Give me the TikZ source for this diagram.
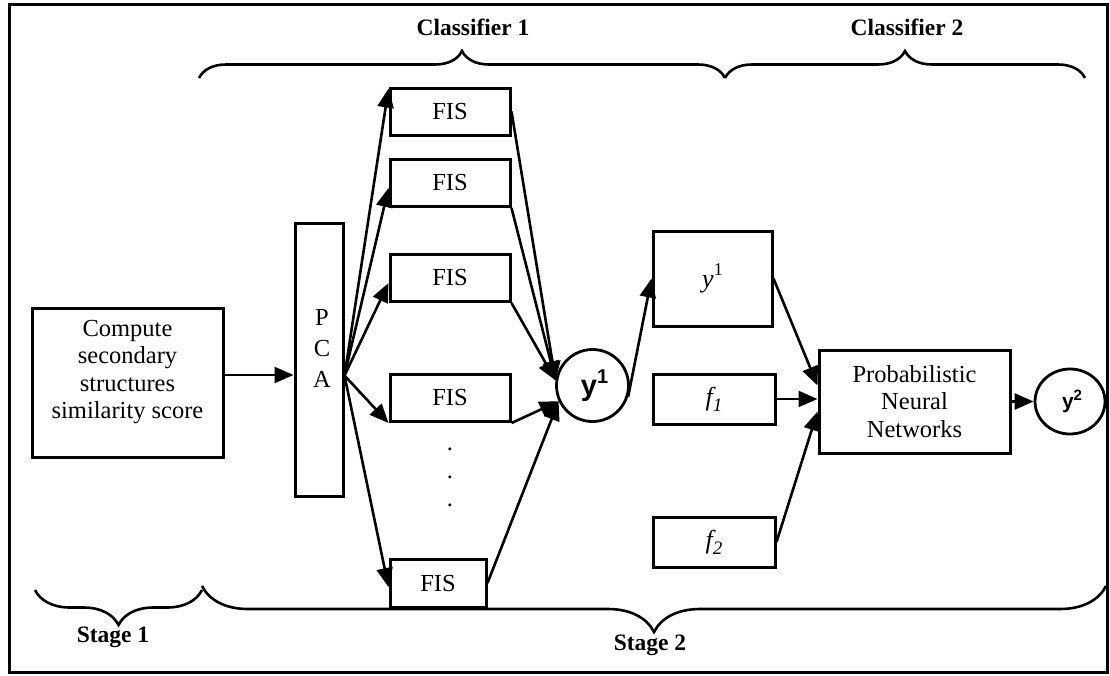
\documentclass[tikz,border=0pt]{standalone}
\usepackage{fontspec}
\setmainfont{Liberation Serif}
\setsansfont{Liberation Sans}
\usetikzlibrary{arrows.meta,decorations.pathreplacing,shapes.geometric}
\newcommand\fsmain{\fontsize{24.5}{27.5}\selectfont}
\begin{document}
\begin{tikzpicture}[x=1pt,y=-1pt,
  box/.style={draw, line width=3pt, inner sep=0pt, align=center, font=\fsmain},
  txt/.style={inner sep=0pt, align=center, font=\fsmain},
  head/.style={inner sep=0pt, font=\fontsize{23.5}{27}\selectfont\bfseries},
  conn/.style={line width=2.6pt, -{Triangle[length=19pt,width=16pt]}},
  brc/.style={line width=2.6pt, decorate},
  circ/.style={draw, line width=2.8pt, inner sep=0pt}]
\useasboundingbox (0,0) rectangle (1110,675);
\draw[line width=3pt] (9,4) rectangle (1107,672);

% headers
\node[head] (cl1) at (473,27) {Classifier 1};
\node[head] (cl2) at (907,27) {Classifier 2};
\node[head] (st1) at (113,637) {Stage 1};
\node[head] (st2) at (650,645) {Stage 2};

% braces
\draw[brc, decoration={brace, amplitude=27pt}] (199,78) -- (725,78);
\draw[brc, decoration={brace, amplitude=27pt}] (725,78) -- (1085,78);
\draw[brc, decoration={brace, amplitude=35pt}] (202,590) -- (35,590);
\draw[brc, decoration={brace, amplitude=46pt}] (1106,586) -- (202,586);

% stage 1
\node[box, minimum width=191pt, minimum height=149pt] (comp) at (127.5,382.5) {};
\node[txt] (compt) at (127.5,372) {Compute\\secondary\\structures\\similarity score};

% PCA
\node[box, minimum width=48pt, minimum height=273pt] (pca) at (319,359.5) {};
\node[inner sep=0pt, align=center, font=\fontsize{24.5}{31}\selectfont] (pcat) at (322,348) {P\\C\\A};

% FIS boxes
\node[box, minimum width=120pt, minimum height=47pt] (fis1) at (450,111.5) {FIS};
\node[box, minimum width=120pt, minimum height=47pt] (fis2) at (450,183) {FIS};
\node[box, minimum width=120pt, minimum height=47pt] (fis3) at (450,278) {FIS};
\node[box, minimum width=120pt, minimum height=47pt] (fis4) at (450,398) {FIS};
\node[box, minimum width=96pt, minimum height=48pt] (fis5) at (438,583) {FIS};
\node[txt] (d1) at (450,449) {.};
\node[txt] (d2) at (450,477) {.};
\node[txt] (d3) at (450,505) {.};

% y1 circle
\node[circ, circle, minimum size=72pt, font=\sffamily\bfseries\fontsize{29}{30}\selectfont] (y1c) at (592.5,385.5)
  {\hspace*{4pt}y\raisebox{0.42em}{\fontsize{20}{20}\selectfont 1}};

% classifier 2
\node[box, minimum width=119pt, minimum height=95pt, font=\fontsize{26}{28}\selectfont] (ybox) at (712.5,278.5)
  {\raisebox{-4pt}{\textit{y}\raisebox{0.45em}{\fontsize{18}{18}\selectfont 1}}};
\node[box, minimum width=122pt, minimum height=50pt, font=\fontsize{26}{28}\selectfont] (f1) at (714,399)
  {\textit{f\raisebox{-0.22em}{\fontsize{19}{19}\selectfont 1}}};
\node[box, minimum width=122pt, minimum height=50pt, font=\fontsize{26}{28}\selectfont] (f2) at (714,542)
  {\textit{f\raisebox{-0.22em}{\fontsize{19}{19}\selectfont 2}}};
\node[box, minimum width=191pt, minimum height=103pt] (pnn) at (914.5,401.5)
  {Probabilistic\\Neural\\Networks};
\node[circ, ellipse, minimum width=70pt, minimum height=65pt, font=\sffamily\bfseries\fontsize{21}{22}\selectfont] (y2c) at (1070,401.5)
  {\hspace*{4pt}y\raisebox{0.4em}{\fontsize{15}{15}\selectfont 2}};

% connectors
\draw[conn] ([yshift=7.5pt]comp.east) -- ([yshift=-15.5pt]pca.west);
\draw[conn] ([yshift=-16pt]pca.east) -- ([yshift=-2pt]fis1.north west);
\draw[conn] ([yshift=-16pt]pca.east) -- ([yshift=-5pt]fis2.west);
\draw[conn] ([yshift=-16pt]pca.east) -- ([yshift=-5pt]fis3.west);
\draw[conn] ([yshift=-16pt]pca.east) -- (fis4.south west);
\draw[conn] ([yshift=-16pt]pca.east) -- ([yshift=-4pt]fis5.west);

\draw[conn] (fis1.east) -- (y1c.172);
\draw[conn] (fis2.south east) -- (y1c.172);
\draw[conn] (fis3.south east) -- (y1c.172);
\draw[conn] (fis4.south east) -- (y1c.205);
\draw[conn] (fis5.east) -- (y1c.205);

\draw[conn] (y1c.-18) -- (ybox.west);
\draw[conn] (ybox.east) -- ([yshift=16pt]pnn.west);
\draw[conn] (f1.east) -- (f1.east -| pnn.west);
\draw[conn] (f2.east) -- ([yshift=-10pt]pnn.west);
\draw[conn] (pnn.east) -- (y2c.west);
\end{tikzpicture}
\end{document}
